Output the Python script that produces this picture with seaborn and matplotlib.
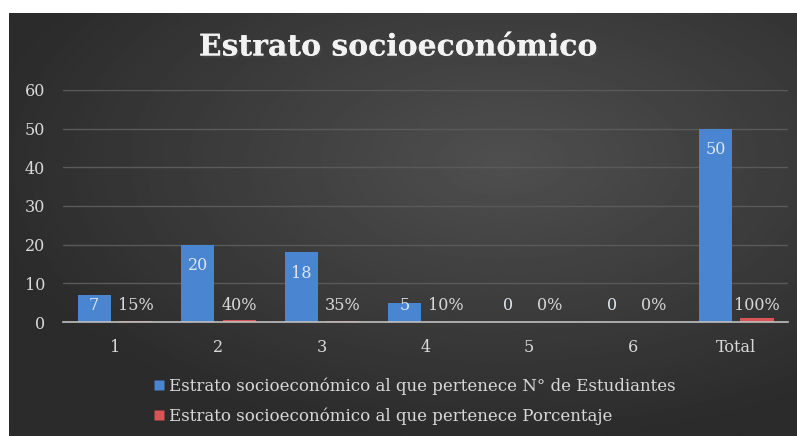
import numpy as np
import pandas as pd
import matplotlib
matplotlib.use("Agg")
import matplotlib.pyplot as plt
import matplotlib.patheffects as pe
from matplotlib.lines import Line2D
import seaborn as sns

categories = ["1", "2", "3", "4", "5", "6", "Total"]
estudiantes = [7, 20, 18, 5, 0, 0, 50]
porcentaje = [0.15, 0.40, 0.35, 0.10, 0.0, 0.0, 1.0]
porcentaje_labels = ["15%", "40%", "35%", "10%", "0%", "0%", "100%"]
series_names = [
    "Estrato socioeconómico al que pertenece N° de Estudiantes",
    "Estrato socioeconómico al que pertenece Porcentaje",
]
title = "Estrato socioeconómico"

df = pd.DataFrame({
    "cat": categories * 2,
    "val": estudiantes + porcentaje,
    "serie": [series_names[0]] * len(categories) + [series_names[1]] * len(categories),
})

sns.set_theme(style="dark")
plt.rcParams["font.family"] = ["DejaVu Serif", "DejaVu Sans"]

W, H = 797, 436
fig = plt.figure(figsize=(W / 100, H / 100), dpi=100)
fig.patch.set_facecolor("white")

# background gradient panel
bg = fig.add_axes([9 / W, 0, 1 - 9 / W, 1 - 13 / H])
yy, xx = np.mgrid[0:200, 0:400]
cx, cy = 250, 70
r = np.sqrt(((xx - cx) / 400) ** 2 + ((yy - cy) / 200) ** 2)
img = np.clip(0.31 - 0.21 * r, 0.17, 0.31)
bg.imshow(img, cmap="gray", vmin=0, vmax=1, aspect="auto", extent=[0, 1, 0, 1])
bg.set_axis_off()

ax = fig.add_axes([63 / W, 1 - 322 / H, (788 - 63) / W, (322 - 90) / H])
ax.patch.set_alpha(0)

palette = {series_names[0]: "#4a85d1", series_names[1]: "#d95454"}
sns.barplot(data=df, x="cat", y="val", hue="serie", palette=palette,
            width=0.8, gap=0.2, saturation=1, ax=ax, legend=False,
            edgecolor="none")

ax.set_ylim(0, 60)
ax.set_xlim(-0.5, 6.5)
ax.set_yticks(range(0, 61, 10))
ax.set_xlabel("")
ax.set_ylabel("")
ax.grid(axis="y", color="#5a5a5a", linewidth=1)
ax.grid(axis="x", visible=False)
for s in ["top", "right", "left"]:
    ax.spines[s].set_visible(False)
ax.spines["bottom"].set_color("#bfbfbf")
ax.spines["bottom"].set_linewidth(1.2)
ax.tick_params(axis="both", length=0, colors="#d9d9d9", labelsize=11.5)
ax.tick_params(axis="x", pad=12)
ax.tick_params(axis="y", pad=13)

# data labels
for i, v in enumerate(estudiantes):
    y = max(v - 5.4, 4.3)
    ax.text(i - 0.2, y, str(v), ha="center", va="center",
            color="#dce6f2", fontsize=11.5)
for i, lab in enumerate(porcentaje_labels):
    ax.text(i + 0.2, 4.3, lab, ha="center", va="center",
            color="#d9d9d9", fontsize=11.5)

fig.text(0.5, 1 - 47 / H, title, ha="center", va="center", color="#f2f2f2",
         fontsize=21.5, fontweight="bold",
         path_effects=[pe.withSimplePatchShadow(offset=(1.5, -1.5), alpha=0.6),
                       pe.Normal()])

handles = [Line2D([], [], marker="s", linestyle="none", markersize=7,
                  markerfacecolor=palette[n], markeredgecolor="none") for n in series_names]
leg = fig.legend(handles, series_names, loc="center", bbox_to_anchor=(0.519, 1 - 401 / H),
                 ncol=1, frameon=False, fontsize=12, labelcolor="#d9d9d9",
                 handletextpad=0.2, labelspacing=0.75, handlelength=0.8)

fig.savefig("out.png", dpi=100, facecolor=fig.get_facecolor())
